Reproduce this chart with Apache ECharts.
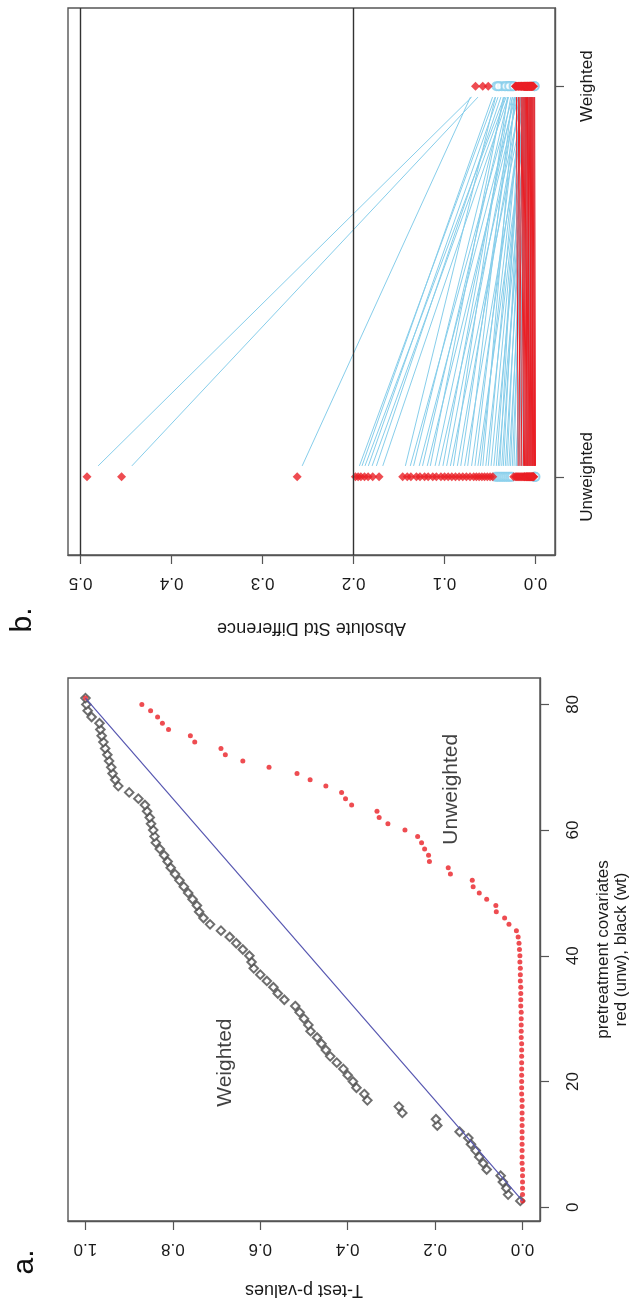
<!DOCTYPE html>
<html>
<head>
<meta charset="utf-8">
<script src="https://cdn.jsdelivr.net/npm/echarts@6/dist/echarts.min.js"></script>
<style>
  html, body { margin: 0; padding: 0; background: #ffffff; }
  #chart { width: 638px; height: 1310px; }
</style>
</head>
<body>
<div id="chart"></div>
<script>
// ---------- Panel a: sorted t-test p-values for the 81 pretreatment covariates ----------
const covariateRank = [
  1, 2, 3, 4, 5, 6, 7, 8, 9, 10, 11, 12, 13, 14, 15, 16, 17, 18, 19, 20,
  21, 22, 23, 24, 25, 26, 27, 28, 29, 30, 31, 32, 33, 34, 35, 36, 37, 38, 39, 40,
  41, 42, 43, 44, 45, 46, 47, 48, 49, 50, 51, 52, 53, 54, 55, 56, 57, 58, 59, 60,
  61, 62, 63, 64, 65, 66, 67, 68, 69, 70, 71, 72, 73, 74, 75, 76, 77, 78, 79, 80, 81
];
// unweighted (red)
const pUnweighted = [
  0.000, 0.000, 0.000, 0.000, 0.000, 0.000, 0.001, 0.001, 0.001, 0.001,
  0.001, 0.001, 0.001, 0.001, 0.001, 0.001, 0.001, 0.002, 0.002, 0.002,
  0.002, 0.002, 0.002, 0.002, 0.002, 0.002, 0.003, 0.003, 0.003, 0.003,
  0.003, 0.004, 0.004, 0.004, 0.004, 0.005, 0.005, 0.005, 0.006, 0.006,
  0.007, 0.008, 0.010, 0.014, 0.031, 0.041, 0.060, 0.061, 0.082, 0.099,
  0.113, 0.115, 0.165, 0.170, 0.213, 0.215, 0.224, 0.231, 0.240, 0.269,
  0.308, 0.328, 0.333, 0.391, 0.405, 0.414, 0.450, 0.486, 0.516, 0.580,
  0.640, 0.680, 0.690, 0.750, 0.760, 0.810, 0.824, 0.835, 0.851, 0.871, 1.000
];
// weighted (black)
const pWeighted = [
  0.005, 0.033, 0.037, 0.045, 0.050, 0.082, 0.090, 0.099, 0.107, 0.118,
  0.124, 0.144, 0.195, 0.198, 0.275, 0.283, 0.355, 0.362, 0.380, 0.388,
  0.400, 0.410, 0.425, 0.440, 0.450, 0.460, 0.470, 0.485, 0.490, 0.500,
  0.510, 0.520, 0.545, 0.560, 0.570, 0.585, 0.600, 0.615, 0.620, 0.625,
  0.640, 0.655, 0.670, 0.690, 0.715, 0.730, 0.740, 0.745, 0.755, 0.765,
  0.775, 0.785, 0.795, 0.805, 0.812, 0.820, 0.830, 0.839, 0.842, 0.845,
  0.850, 0.853, 0.859, 0.864, 0.879, 0.900, 0.925, 0.932, 0.938, 0.941,
  0.946, 0.950, 0.955, 0.959, 0.963, 0.966, 0.968, 0.986, 0.995, 0.998, 1.000
];
const pTicks = [0, 0.2, 0.4, 0.6, 0.8, 1.0];
const rankTicks = [0, 20, 40, 60, 80];

// ---------- Panel b: absolute standardized differences before / after weighting ----------
const groupLabels = ['Unweighted', 'Weighted'];
const groupPos = [1, 2];
const stdUnweighted = [
  0.493, 0.455, 0.262, 0.198, 0.195, 0.192, 0.188, 0.184, 0.179, 0.172,
  0.146, 0.141, 0.137, 0.131, 0.127, 0.122, 0.118, 0.113, 0.109, 0.104,
  0.100, 0.096, 0.092, 0.088, 0.084, 0.080, 0.076, 0.072, 0.068, 0.065,
  0.062, 0.059, 0.056, 0.053, 0.050, 0.047, 0.044, 0.042, 0.040, 0.038,
  0.036, 0.034, 0.032, 0.030, 0.028, 0.026, 0.024, 0.022, 0.021, 0.020,
  0.019, 0.018, 0.017, 0.016, 0.015, 0.014, 0.013, 0.012, 0.012, 0.011,
  0.010, 0.010, 0.009, 0.009, 0.008, 0.008, 0.007, 0.007, 0.006, 0.006,
  0.005, 0.005, 0.004, 0.004, 0.003, 0.003, 0.002, 0.002, 0.001, 0.001, 0.000
];
const stdWeighted = [
  0.058, 0.052, 0.066, 0.040, 0.043, 0.030, 0.037, 0.028, 0.034, 0.026,
  0.041, 0.022, 0.031, 0.019, 0.027, 0.016, 0.033, 0.021, 0.012, 0.025,
  0.018, 0.009, 0.029, 0.014, 0.020, 0.007, 0.024, 0.011, 0.017, 0.005,
  0.013, 0.022, 0.008, 0.015, 0.010, 0.006, 0.012, 0.004, 0.016, 0.009,
  0.013, 0.007, 0.011, 0.005, 0.010, 0.008, 0.012, 0.006, 0.009, 0.004,
  0.021, 0.011, 0.019, 0.008, 0.018, 0.010, 0.016, 0.006, 0.015, 0.014,
  0.013, 0.007, 0.012, 0.011, 0.010, 0.005, 0.009, 0.008, 0.009, 0.004,
  0.007, 0.006, 0.006, 0.003, 0.005, 0.004, 0.004, 0.001, 0.003, 0.002, 0.001
];
// 1 = statistically significant difference (filled red), 0 = not significant (open blue)
const sigUnweighted = [
  1, 1, 1, 1, 1, 1, 1, 1, 1, 1, 1, 1, 1, 1, 1, 1, 1, 1, 1, 1,
  1, 1, 1, 1, 1, 1, 1, 1, 1, 1, 1, 1, 1, 1, 1, 1, 0, 0, 0, 0,
  0, 0, 0, 0, 0, 0, 1, 1, 1, 1, 1, 1, 1, 1, 1, 1, 1, 1, 1, 1,
  1, 1, 1, 1, 1, 1, 1, 1, 1, 1, 1, 1, 1, 1, 1, 1, 1, 1, 0, 0, 0
];
const sigWeighted = [
  1, 1, 1, 0, 0, 0, 0, 0, 0, 0, 0, 1, 0, 1, 0, 1, 0, 1, 1, 0,
  1, 1, 0, 1, 1, 1, 0, 1, 1, 1, 1, 1, 1, 1, 1, 1, 1, 1, 1, 1,
  1, 1, 1, 1, 1, 1, 1, 1, 1, 1, 1, 1, 1, 1, 1, 1, 1, 1, 1, 1,
  1, 1, 1, 1, 1, 1, 1, 1, 1, 1, 1, 1, 1, 1, 1, 1, 1, 0, 1, 1, 0
];
const stdTicks = [0, 0.1, 0.2, 0.3, 0.4, 0.5];
const refLines = [0.2, 0.5];

// ---------- styling ----------
const FONT = '"Liberation Sans", Arial, sans-serif';
const TEXT = '#1a1a1a';
const FRAME = '#555555';
const RED = '#ea1f25';
const SKY = '#87ceeb';
const DIAG = '#5656b0';

function frameAxis(extra) {
  return Object.assign({
    splitLine: { show: false },
    axisLine: { show: true, onZero: false, lineStyle: { color: FRAME, width: 1.4 } },
    axisTick: { show: true, inside: false, length: 9, lineStyle: { color: FRAME, width: 1.2 } },
  }, extra);
}

// connecting segments, trimmed near the end points like an R type="b" plot
const GAP = 0.028;
const blueSegs = [], redSegs = [];
stdUnweighted.forEach((u, i) => {
  const w = stdWeighted[i];
  const seg = {
    coords: [
      [u + GAP * (w - u), groupPos[0] + GAP],
      [w - GAP * (w - u), groupPos[1] - GAP]
    ]
  };
  (w > u ? redSegs : blueSegs).push(seg);
});

const redPts = [], bluePts = [];
stdUnweighted.forEach((u, i) => {
  (sigUnweighted[i] ? redPts : bluePts).push([u, groupPos[0]]);
});
stdWeighted.forEach((w, i) => {
  (sigWeighted[i] ? redPts : bluePts).push([w, groupPos[1]]);
});

const chart = echarts.init(document.getElementById('chart'), null, { renderer: 'canvas' });

chart.setOption({
  animation: false,
  backgroundColor: '#ffffff',
  textStyle: { fontFamily: FONT, color: TEXT },
  grid: [
    { left: 68, top: 8, width: 487, height: 547, show: true, borderColor: FRAME, borderWidth: 1.4, backgroundColor: 'transparent' },
    { left: 68, top: 678, width: 478, height: 543, show: true, borderColor: FRAME, borderWidth: 1.4, backgroundColor: 'transparent' }
  ],
  xAxis: [
    frameAxis({
      gridIndex: 0, type: 'value', position: 'bottom', inverse: true,
      min: -0.0214, max: 0.5139,
      axisTick: { show: true, length: 9, customValues: stdTicks, lineStyle: { color: FRAME, width: 1.2 } },
      axisLabel: {
        customValues: stdTicks, rotate: 180, margin: 19,
        fontSize: 17, fontFamily: FONT, color: TEXT,
        formatter: v => v.toFixed(1)
      },
      name: 'Absolute Std Difference', nameLocation: 'middle', nameRotate: 180, nameGap: 64,
      nameTextStyle: { fontSize: 18, fontFamily: FONT, color: TEXT }
    }),
    frameAxis({
      gridIndex: 1, type: 'value', position: 'bottom', inverse: true,
      min: -0.04, max: 1.04,
      axisTick: { show: true, length: 9, customValues: pTicks, lineStyle: { color: FRAME, width: 1.2 } },
      axisLabel: {
        customValues: pTicks, rotate: 180, margin: 19,
        fontSize: 17, fontFamily: FONT, color: TEXT,
        formatter: v => v.toFixed(1)
      },
      name: 'T-test p-values', nameLocation: 'middle', nameRotate: 180, nameGap: 60,
      nameTextStyle: { fontSize: 18, fontFamily: FONT, color: TEXT }
    })
  ],
  yAxis: [
    frameAxis({
      gridIndex: 0, type: 'value', position: 'right',
      min: 0.8, max: 2.2,
      axisTick: { show: true, length: 9, customValues: groupPos, lineStyle: { color: FRAME, width: 1.2 } },
      axisLabel: {
        customValues: groupPos, rotate: 90, margin: 24,
        fontSize: 17, fontFamily: FONT, color: TEXT,
        formatter: v => groupLabels[groupPos.indexOf(Math.round(v))]
      }
    }),
    frameAxis({
      gridIndex: 1, type: 'value', position: 'right',
      min: -2.2, max: 84.2,
      axisTick: { show: true, length: 9, customValues: rankTicks, lineStyle: { color: FRAME, width: 1.2 } },
      axisLabel: {
        customValues: rankTicks, rotate: 90, margin: 25,
        fontSize: 17, fontFamily: FONT, color: TEXT,
        formatter: v => String(v)
      },
      name: 'pretreatment covariates\nred (unw), black (wt)',
      nameLocation: 'middle', nameRotate: 90, nameGap: 54,
      nameTextStyle: { fontSize: 17, lineHeight: 18, fontFamily: FONT, color: TEXT, align: 'center' }
    })
  ],
  series: [
    // ---- panel b ----
    {
      type: 'lines', coordinateSystem: 'cartesian2d', xAxisIndex: 0, yAxisIndex: 0,
      silent: true, polyline: false,
      lineStyle: { color: SKY, width: 1, opacity: 1 },
      data: blueSegs,
      markLine: {
        silent: true, symbol: ['none', 'none'], label: { show: false },
        lineStyle: { color: '#333333', width: 1.4, type: 'solid' },
        data: refLines.map(v => ({ xAxis: v }))
      }
    },
    {
      type: 'lines', coordinateSystem: 'cartesian2d', xAxisIndex: 0, yAxisIndex: 0,
      silent: true, polyline: false,
      lineStyle: { color: RED, width: 1, opacity: 1 },
      data: redSegs
    },
    {
      type: 'scatter', xAxisIndex: 0, yAxisIndex: 0, silent: true,
      symbol: 'emptyCircle', symbolSize: 8,
      itemStyle: { color: SKY, borderColor: SKY, borderWidth: 1.2 },
      data: bluePts
    },
    {
      type: 'scatter', xAxisIndex: 0, yAxisIndex: 0, silent: true,
      symbol: 'diamond', symbolSize: 9,
      itemStyle: { color: RED },
      data: redPts
    },
    // ---- panel a ----
    {
      type: 'line', xAxisIndex: 1, yAxisIndex: 1, silent: true,
      symbol: 'none', lineStyle: { color: DIAG, width: 1.2 },
      data: [[0, covariateRank[0]], [1, covariateRank[covariateRank.length - 1]]]
    },
    {
      type: 'scatter', xAxisIndex: 1, yAxisIndex: 1, silent: true,
      symbol: 'emptyDiamond', symbolSize: 8.5,
      itemStyle: { color: '#4a4a4a', borderColor: '#4a4a4a', borderWidth: 0.85 },
      data: pWeighted.map((p, i) => [p, covariateRank[i]])
    },
    {
      type: 'scatter', xAxisIndex: 1, yAxisIndex: 1, silent: true,
      symbol: 'circle', symbolSize: 5,
      itemStyle: { color: RED },
      data: pUnweighted.map((p, i) => [p, covariateRank[i]])
    },
    {
      // in-plot group annotations
      type: 'scatter', xAxisIndex: 1, yAxisIndex: 1, silent: true,
      symbolSize: 0,
      label: {
        show: true, position: 'inside', rotate: 90,
        fontSize: 21, fontFamily: FONT, color: '#111111',
        formatter: p => p.name
      },
      data: [
        { name: 'Weighted', value: [0.68, 23] },
        { name: 'Unweighted', value: [0.163, 66.5] }
      ]
    }
  ],
  graphic: [
    {
      type: 'text', x: 25, y: 1262, rotation: Math.PI / 2,
      style: { text: 'a.', fontSize: 30, fontFamily: FONT, fill: '#111111', align: 'center', verticalAlign: 'middle' }
    },
    {
      type: 'text', x: 23, y: 620, rotation: Math.PI / 2,
      style: { text: 'b.', fontSize: 30, fontFamily: FONT, fill: '#111111', align: 'center', verticalAlign: 'middle' }
    }
  ]
});
</script>
</body>
</html>
